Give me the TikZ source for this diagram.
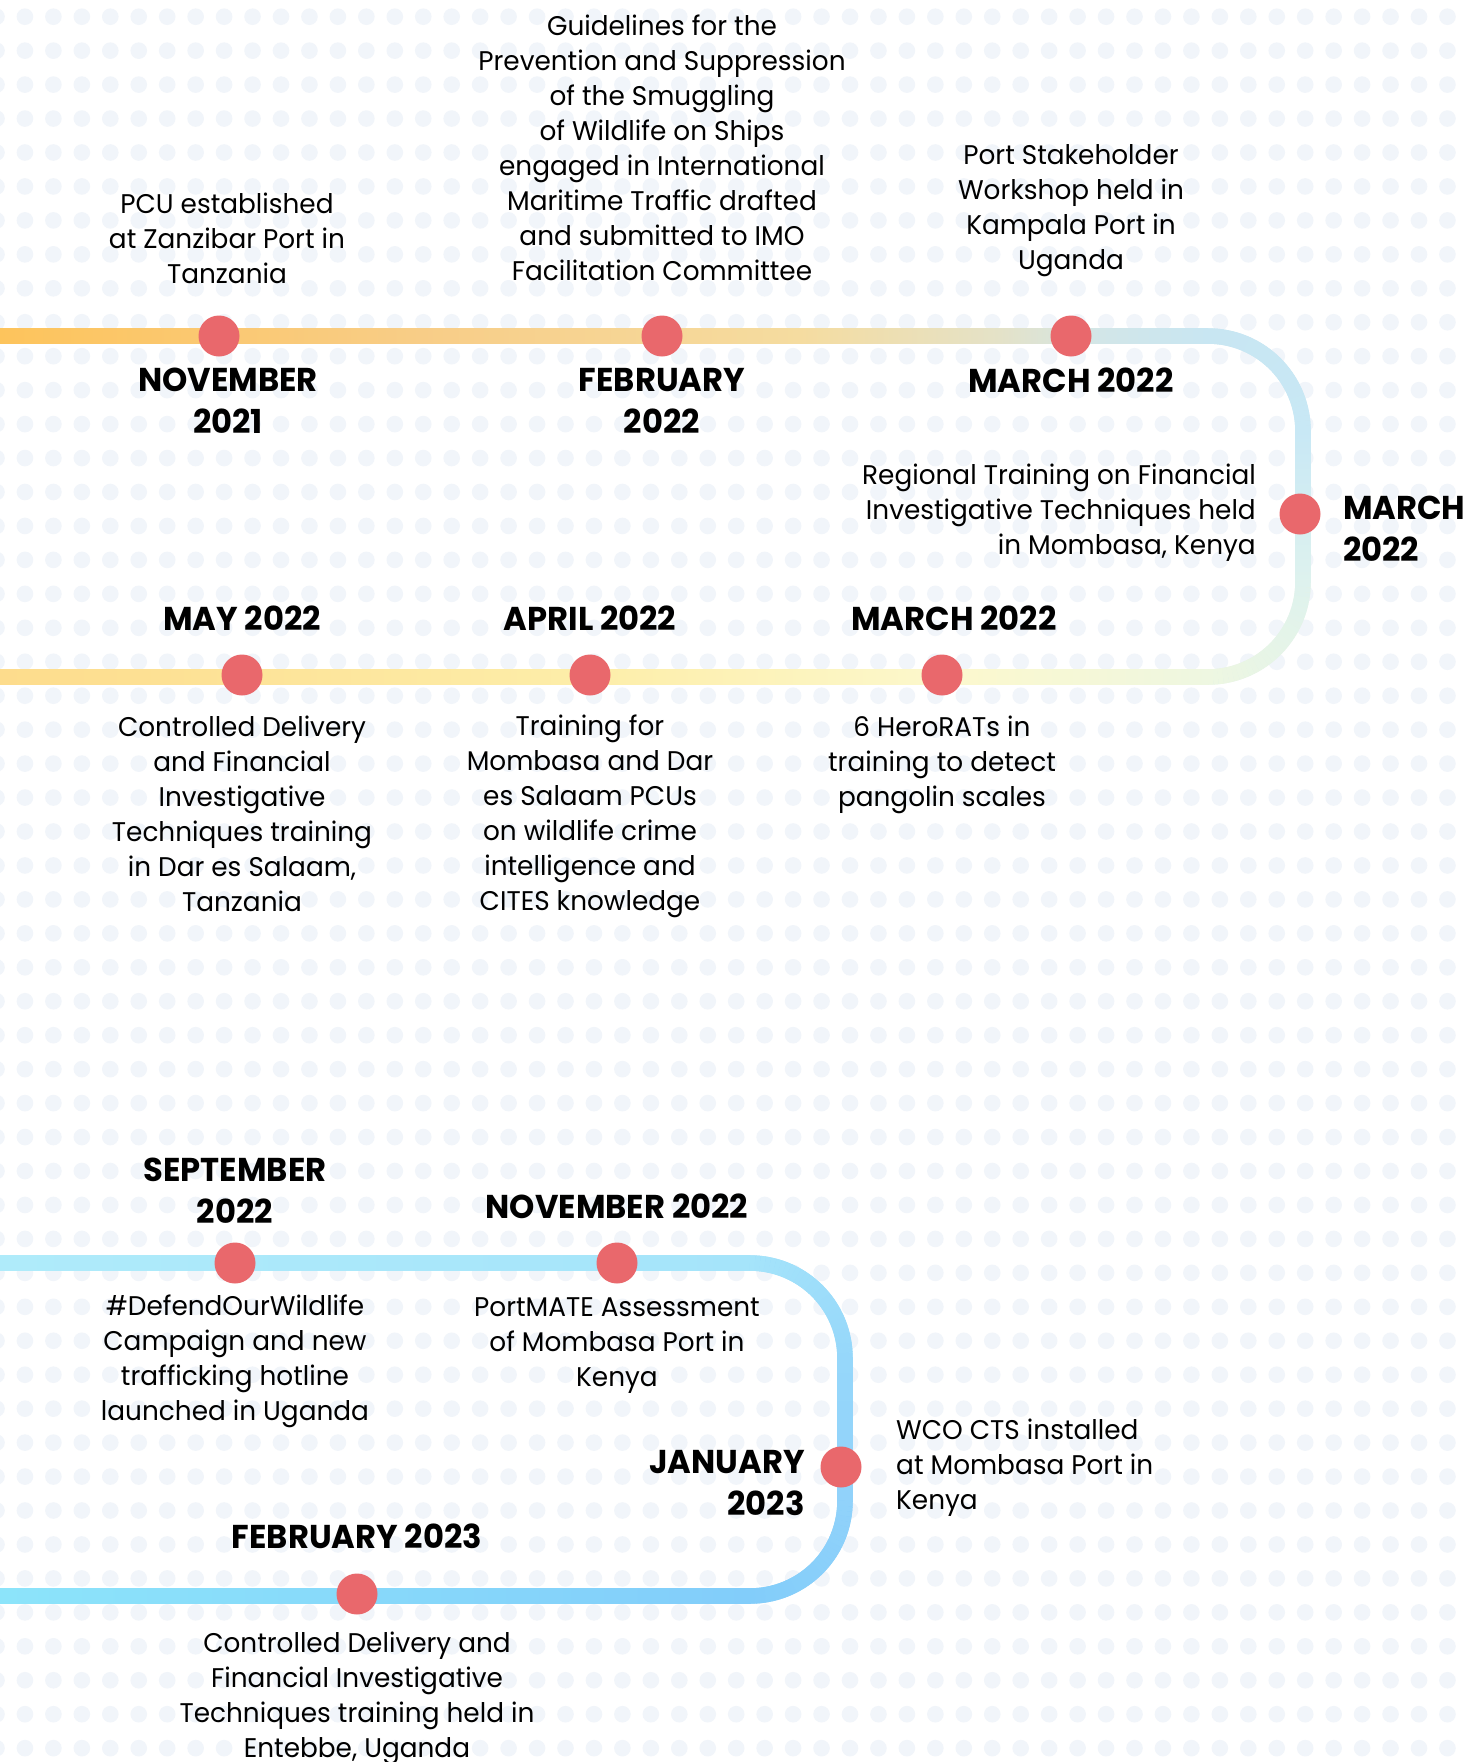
\documentclass[tikz,border=0pt]{standalone}
\usepackage{fontspec}
\setmainfont{Poppins}[FakeStretch=0.975]
\definecolor{dotc}{RGB}{241,245,250}
\definecolor{evred}{RGB}{233,104,108}
% section A colours
\definecolor{ta0}{RGB}{253,196,92}
\definecolor{ta1}{RGB}{248,205,135}
\definecolor{ta2}{RGB}{245,220,160}
\definecolor{ta3}{RGB}{228,226,200}
\definecolor{ta4}{RGB}{210,230,232}
\definecolor{ta5}{RGB}{200,230,242}
\definecolor{ta6}{RGB}{200,232,245}
\definecolor{ta7}{RGB}{222,242,238}
\definecolor{ta8}{RGB}{238,247,225}
\definecolor{ta9}{RGB}{252,248,205}
\definecolor{ta10}{RGB}{253,238,170}
\definecolor{ta11}{RGB}{253,220,140}
% section B colours
\definecolor{tb0}{RGB}{175,235,250}
\definecolor{tb1}{RGB}{165,228,250}
\definecolor{tb2}{RGB}{150,215,250}
\definecolor{tb3}{RGB}{145,210,250}
\definecolor{tb4}{RGB}{130,205,250}
\definecolor{tb5}{RGB}{140,228,250}
% arc made of short pieces: cx, cy, r, start angle, end angle, colour A, colour B
\newcommand\mkarc[7]{%
  \draw[seg,color=#6!50!#7] plot[domain=#4:#5,samples=31] ({#1+#3*cos(\x)},{#2+#3*sin(\x)});
  \foreach \k in {0,...,29}{%
    \pgfmathsetmacro\angA{#4+(#5-#4)*\k/30}%
    \pgfmathsetmacro\angB{#4+(#5-#4)*(\k+1)/30}%
    \pgfmathsetmacro\mixp{100*(\k+0.5)/30}%
    \draw[seg,color=#7!\mixp!#6] ({#1+#3*cos(\angA)},{#2+#3*sin(\angA)}) -- ({#1+#3*cos(\angB)},{#2+#3*sin(\angB)});
  }}
\begin{document}
\begin{tikzpicture}[x=1pt,y=-1pt,
  seg/.style={line width=15.5pt},
  ev/.style={circle,fill=evred,minimum size=41pt,inner sep=0pt},
  body/.style={font=\fontsize{27}{35}\selectfont,align=center,inner sep=0pt,text=black},
  datel/.style={font=\fontsize{33}{41.6}\selectfont\bfseries,align=center,inner sep=0pt,text=black}]
\useasboundingbox (0,0) rectangle (1467,1762);
\fill[white] (0,0) rectangle (1467,1762);
% dotted background
\foreach \i in {0,...,52}{
  \foreach \j in {0,...,51}{
    \fill[dotc] ({-3.5+28.45*\i},{16.7+33.95*\j}) circle (8.3pt);
  }}
% ---------- section A (top row, loop, middle row) ----------
\shade[left color=ta0,right color=ta1] (0,328.25) rectangle (420,343.75);
\shade[left color=ta1,right color=ta2] (420,328.25) rectangle (800,343.75);
\shade[left color=ta2,right color=ta3] (800,328.25) rectangle (1000,343.75);
\shade[left color=ta3,right color=ta4] (1000,328.25) rectangle (1100,343.75);
\shade[left color=ta4,right color=ta5] (1100,328.25) rectangle (1208.3,343.75);
\mkarc{1208}{431}{95}{-90}{0}{ta5}{ta6}
\shade[top color=ta6,bottom color=ta7] (1295.25,430.7) rectangle (1310.75,582.3);
\mkarc{1208}{582}{95}{0}{90}{ta7}{ta8}
\shade[left color=ta9,right color=ta8] (950,669.25) rectangle (1208.3,684.75);
\shade[left color=ta10,right color=ta9] (600,669.25) rectangle (950,684.75);
\shade[left color=ta11,right color=ta10] (0,669.25) rectangle (600,684.75);
% ---------- section B (bottom loop) ----------
\shade[left color=tb0,right color=tb1] (0,1255.25) rectangle (750.3,1270.75);
\mkarc{750}{1358}{95}{-90}{0}{tb1}{tb2}
\shade[top color=tb2,bottom color=tb3] (837.25,1357.7) rectangle (852.75,1501.3);
\mkarc{750}{1501}{95}{0}{90}{tb3}{tb4}
\shade[left color=tb5,right color=tb4] (0,1588.25) rectangle (750.3,1603.75);
% ---------- event markers ----------
\node[ev] (c1) at (219,336) {};
\node[ev] (c2) at (662,336) {};
\node[ev] (c3) at (1071,336) {};
\node[ev] (c4) at (1300,514) {};
\node[ev] (c5) at (242,675) {};
\node[ev] (c6) at (590,675) {};
\node[ev] (c7) at (942,675) {};
\node[ev] (c8) at (235,1263) {};
\node[ev] (c9) at (617,1263) {};
\node[ev] (c10) at (841,1467) {};
\node[ev] (c11) at (357,1594) {};
% ---------- texts ----------
\node[body] (t1) at (227,238) {PCU established\\at Zanzibar Port in\\Tanzania};
\node[datel] (d1) at (228,401) {NOVEMBER\\2021};
\node[body] (t2) at (662,148) {Guidelines for the\\Prevention and Suppression\\of the Smuggling\\of Wildlife on Ships\\engaged in International\\Maritime Traffic drafted\\and submitted to IMO\\Facilitation Committee};
\node[datel] (d2) at (662,401) {FEBRUARY\\2022};
\node[body] (t3) at (1071,210.5) {Port Stakeholder\\Workshop held in\\Kampala Port in\\Uganda};
\node[datel] (d3) at (1071,380) {MARCH 2022};
\node[body,align=right,anchor=east] (t4) at (1256,512.5) {Regional Training on Financial\\Investigative Techniques held\\in Mombasa, Kenya};
\node[datel,align=left,anchor=west] (d4) at (1343,529) {MARCH\\2022};
\node[datel] (d5) at (242,618) {MAY 2022};
\node[body] (t5) at (242,814) {Controlled Delivery\\and Financial\\Investigative\\Techniques training\\in Dar es Salaam,\\Tanzania};
\node[datel] (d6) at (590,618) {APRIL 2022};
\node[body] (t6) at (590,816.5) {Training for\\Mombasa and Dar\\es Salaam PCUs\\on wildlife crime\\intelligence and\\CITES knowledge};
\node[datel] (d7) at (954,618) {MARCH 2022};
\node[body] (t7) at (942,764.5) {6 HeroRATs in\\training to detect\\pangolin scales};
\node[datel] (d8) at (235,1191) {SEPTEMBER\\2022};
\node[body] (t8) at (235,1361.5) {\#DefendOurWildlife\\Campaign and new\\trafficking hotline\\launched in Uganda};
\node[datel] (d9) at (617,1206) {NOVEMBER 2022};
\node[body] (t9) at (617,1345.5) {PortMATE Assessment\\of Mombasa Port in\\Kenya};
\node[datel,align=right,anchor=east] (d10) at (805,1483) {JANUARY\\2023};
\node[body,align=left,anchor=west] (t10) at (896,1467.5) {WCO CTS installed\\at Mombasa Port in\\Kenya};
\node[datel] (d11) at (357,1536) {FEBRUARY 2023};
\node[body] (t11) at (357,1698.5) {Controlled Delivery and\\Financial Investigative\\Techniques training held in\\Entebbe, Uganda};
\end{tikzpicture}
\end{document}
